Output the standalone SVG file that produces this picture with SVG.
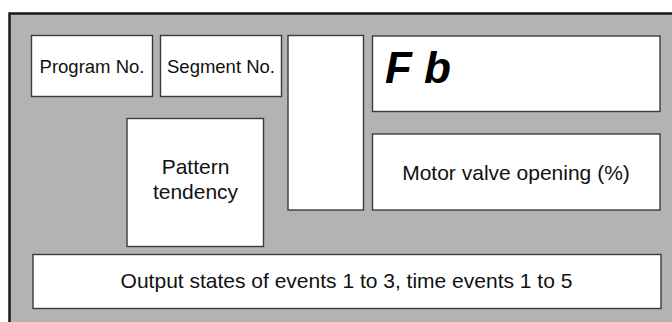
<svg xmlns="http://www.w3.org/2000/svg" width="672" height="322" viewBox="0 0 672 322">
<style>
.box{fill:#fff;stroke:#3a3a3a;stroke-width:1.4}
.t{font-family:"Liberation Sans",Arial,sans-serif;fill:#111;text-anchor:middle}
.big{font-size:21px}
.small{font-size:18.5px}
.seg{font-family:"Liberation Sans",Arial,sans-serif;font-style:italic;font-weight:bold;font-size:44px;fill:#000}
</style>
<rect x="0" y="0" width="672" height="322" fill="#fff"/>
<rect id="frame" x="9.5" y="13.5" width="680" height="330" fill="#b3b3b3" stroke="#1a1a1a" stroke-width="2.5"/>
<g id="program-no">
<rect class="box" x="31.5" y="35.5" width="121" height="61"/>
<text class="t small" x="92" y="72.5">Program No.</text>
</g>
<g id="segment-no">
<rect class="box" x="160.5" y="35.5" width="121" height="61"/>
<text class="t small" x="221" y="72.5">Segment No.</text>
</g>
<g id="tall-box">
<rect class="box" x="288" y="35.5" width="75.5" height="174.5"/>
</g>
<g id="fb-display">
<rect class="box" x="372.5" y="36" width="287.5" height="75.5"/>
<text class="seg" x="385" y="83">F b</text>
</g>
<g id="motor-valve">
<rect class="box" x="372.5" y="134" width="287.5" height="76"/>
<text class="t big" x="516" y="180">Motor valve opening (%)</text>
</g>
<g id="pattern-tendency">
<rect class="box" x="127" y="118.5" width="136.5" height="128"/>
<text class="t big" x="195.5" y="174">Pattern</text>
<text class="t big" x="195.5" y="199">tendency</text>
</g>
<g id="output-states">
<rect class="box" x="33" y="254.5" width="628" height="54"/>
<text class="t big" x="346.5" y="288">Output states of events 1 to 3, time events 1 to 5</text>
</g>
<g id="connectors"/>
</svg>
